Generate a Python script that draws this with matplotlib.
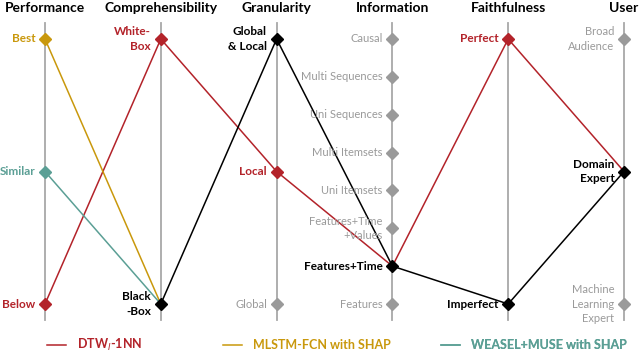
import matplotlib
matplotlib.use('Agg')
import matplotlib.pyplot as plt
from matplotlib.lines import Line2D

### DATA ###
AXES = ['Performance', 'Comprehensibility', 'Granularity', 'Information', 'Faithfulness', 'User']

LEVELS = {
    'Performance': ['Best', 'Similar', 'Below'],
    'Comprehensibility': ['White-\nBox', 'Black\n-Box'],
    'Granularity': ['Global\n& Local', 'Local', 'Global'],
    'Information': ['Causal', 'Multi Sequences', 'Uni Sequences', 'Multi Itemsets', 'Uni Itemsets',
                    'Features+Time\n+Values', 'Features+Time', 'Features'],
    'Faithfulness': ['Perfect', 'Imperfect'],
    'User': ['Broad\nAudience', 'Domain\nExpert', 'Machine\nLearning\nExpert'],
}

# chosen level per axis (only the segments each method has on its own)
DTW_PATH = ['Below', 'White-\nBox', 'Local', 'Features+Time', 'Perfect', 'Domain\nExpert']
MLSTM_PATH = ['Best', 'Black\n-Box']
WEASEL_PATH = ['Similar', 'Black\n-Box']
# shared path of MLSTM-FCN and WEASEL+MUSE
SHARED_PATH = [None, 'Black\n-Box', 'Global\n& Local', 'Features+Time', 'Imperfect', 'Domain\nExpert']

METHODS = [r'DTW$_I$-1NN', 'MLSTM-FCN with SHAP', 'WEASEL+MUSE with SHAP']

### STYLE ###
RED = '#b3232a'
GOLD = '#c9980c'
TEAL = '#5b9f95'
GRAY = '#9a9a9a'
BLACK = '#000000'

plt.rcParams['font.family'] = ['Lato', 'DejaVu Sans']


def level_y(axis_name, label):
    levels = LEVELS[axis_name]
    return 1 - levels.index(label) / (len(levels) - 1)


def path_points(path):
    xs, ys = [], []
    for i, label in enumerate(path):
        if label is None:
            continue
        xs.append(i)
        ys.append(level_y(AXES[i], label))
    return xs, ys


def marker_color(axis_name, label):
    i = AXES.index(axis_name)
    if SHARED_PATH[i] == label:
        return BLACK
    if DTW_PATH[i] == label:
        return RED
    if i < len(MLSTM_PATH) and MLSTM_PATH[i] == label:
        return GOLD
    if i < len(WEASEL_PATH) and WEASEL_PATH[i] == label:
        return TEAL
    return None


fig = plt.figure(figsize=(6.4, 3.52), dpi=100)
ax = fig.add_axes([0, 0, 1, 1])
ax.set_xlim(-45 / 115.8, 5 + 16 / 115.8)
ax.set_ylim((304 - 352) / 265, 1 + 39 / 265)
ax.axis('off')

# vertical axes and titles
for i, name in enumerate(AXES):
    ax.plot([i, i], [-16 / 265, 1 + 16 / 265], color='#a8a8a8', lw=1.3, zorder=1)
    ax.text(i, 1 + 31 / 265, name, ha='center', va='center', fontsize=10,
            fontweight='bold', color=BLACK)

# method lines
for path, color in [(DTW_PATH, RED), (MLSTM_PATH, GOLD), (WEASEL_PATH, TEAL), (SHARED_PATH, BLACK)]:
    xs, ys = path_points(path)
    ax.plot(xs, ys, color=color, lw=1.1, zorder=2)

# markers and level labels
for i, name in enumerate(AXES):
    for label in LEVELS[name]:
        y = level_y(name, label)
        c = marker_color(name, label)
        used = c is not None
        col = c if used else GRAY
        ax.plot(i, y, marker='D', ms=6.5, color=col, mec=col, zorder=3, ls='none')
        ax.annotate(label, (i, y), xytext=(-7, 0), textcoords='offset points',
                    ha='right', va='center', multialignment='right',
                    fontsize=8.5 if used else 8,
                    fontweight='bold' if used else 'normal', color=col,
                    linespacing=1.35, zorder=4)

# legend, one entry per block
for x_px, label, color in zip([47, 223, 441], METHODS, [RED, GOLD, TEAL]):
    leg = ax.legend([Line2D([], [], color=color, lw=1.1)], [label],
                    loc='center left', bbox_to_anchor=(x_px / 640, 1 - 345 / 352),
                    bbox_transform=fig.transFigure, frameon=False, borderpad=0,
                    borderaxespad=0, handlelength=1.5, handletextpad=0.9,
                    labelcolor=color, prop={'weight': 'bold', 'size': 9})
    ax.add_artist(leg)

fig.savefig('out.png', dpi=100)
